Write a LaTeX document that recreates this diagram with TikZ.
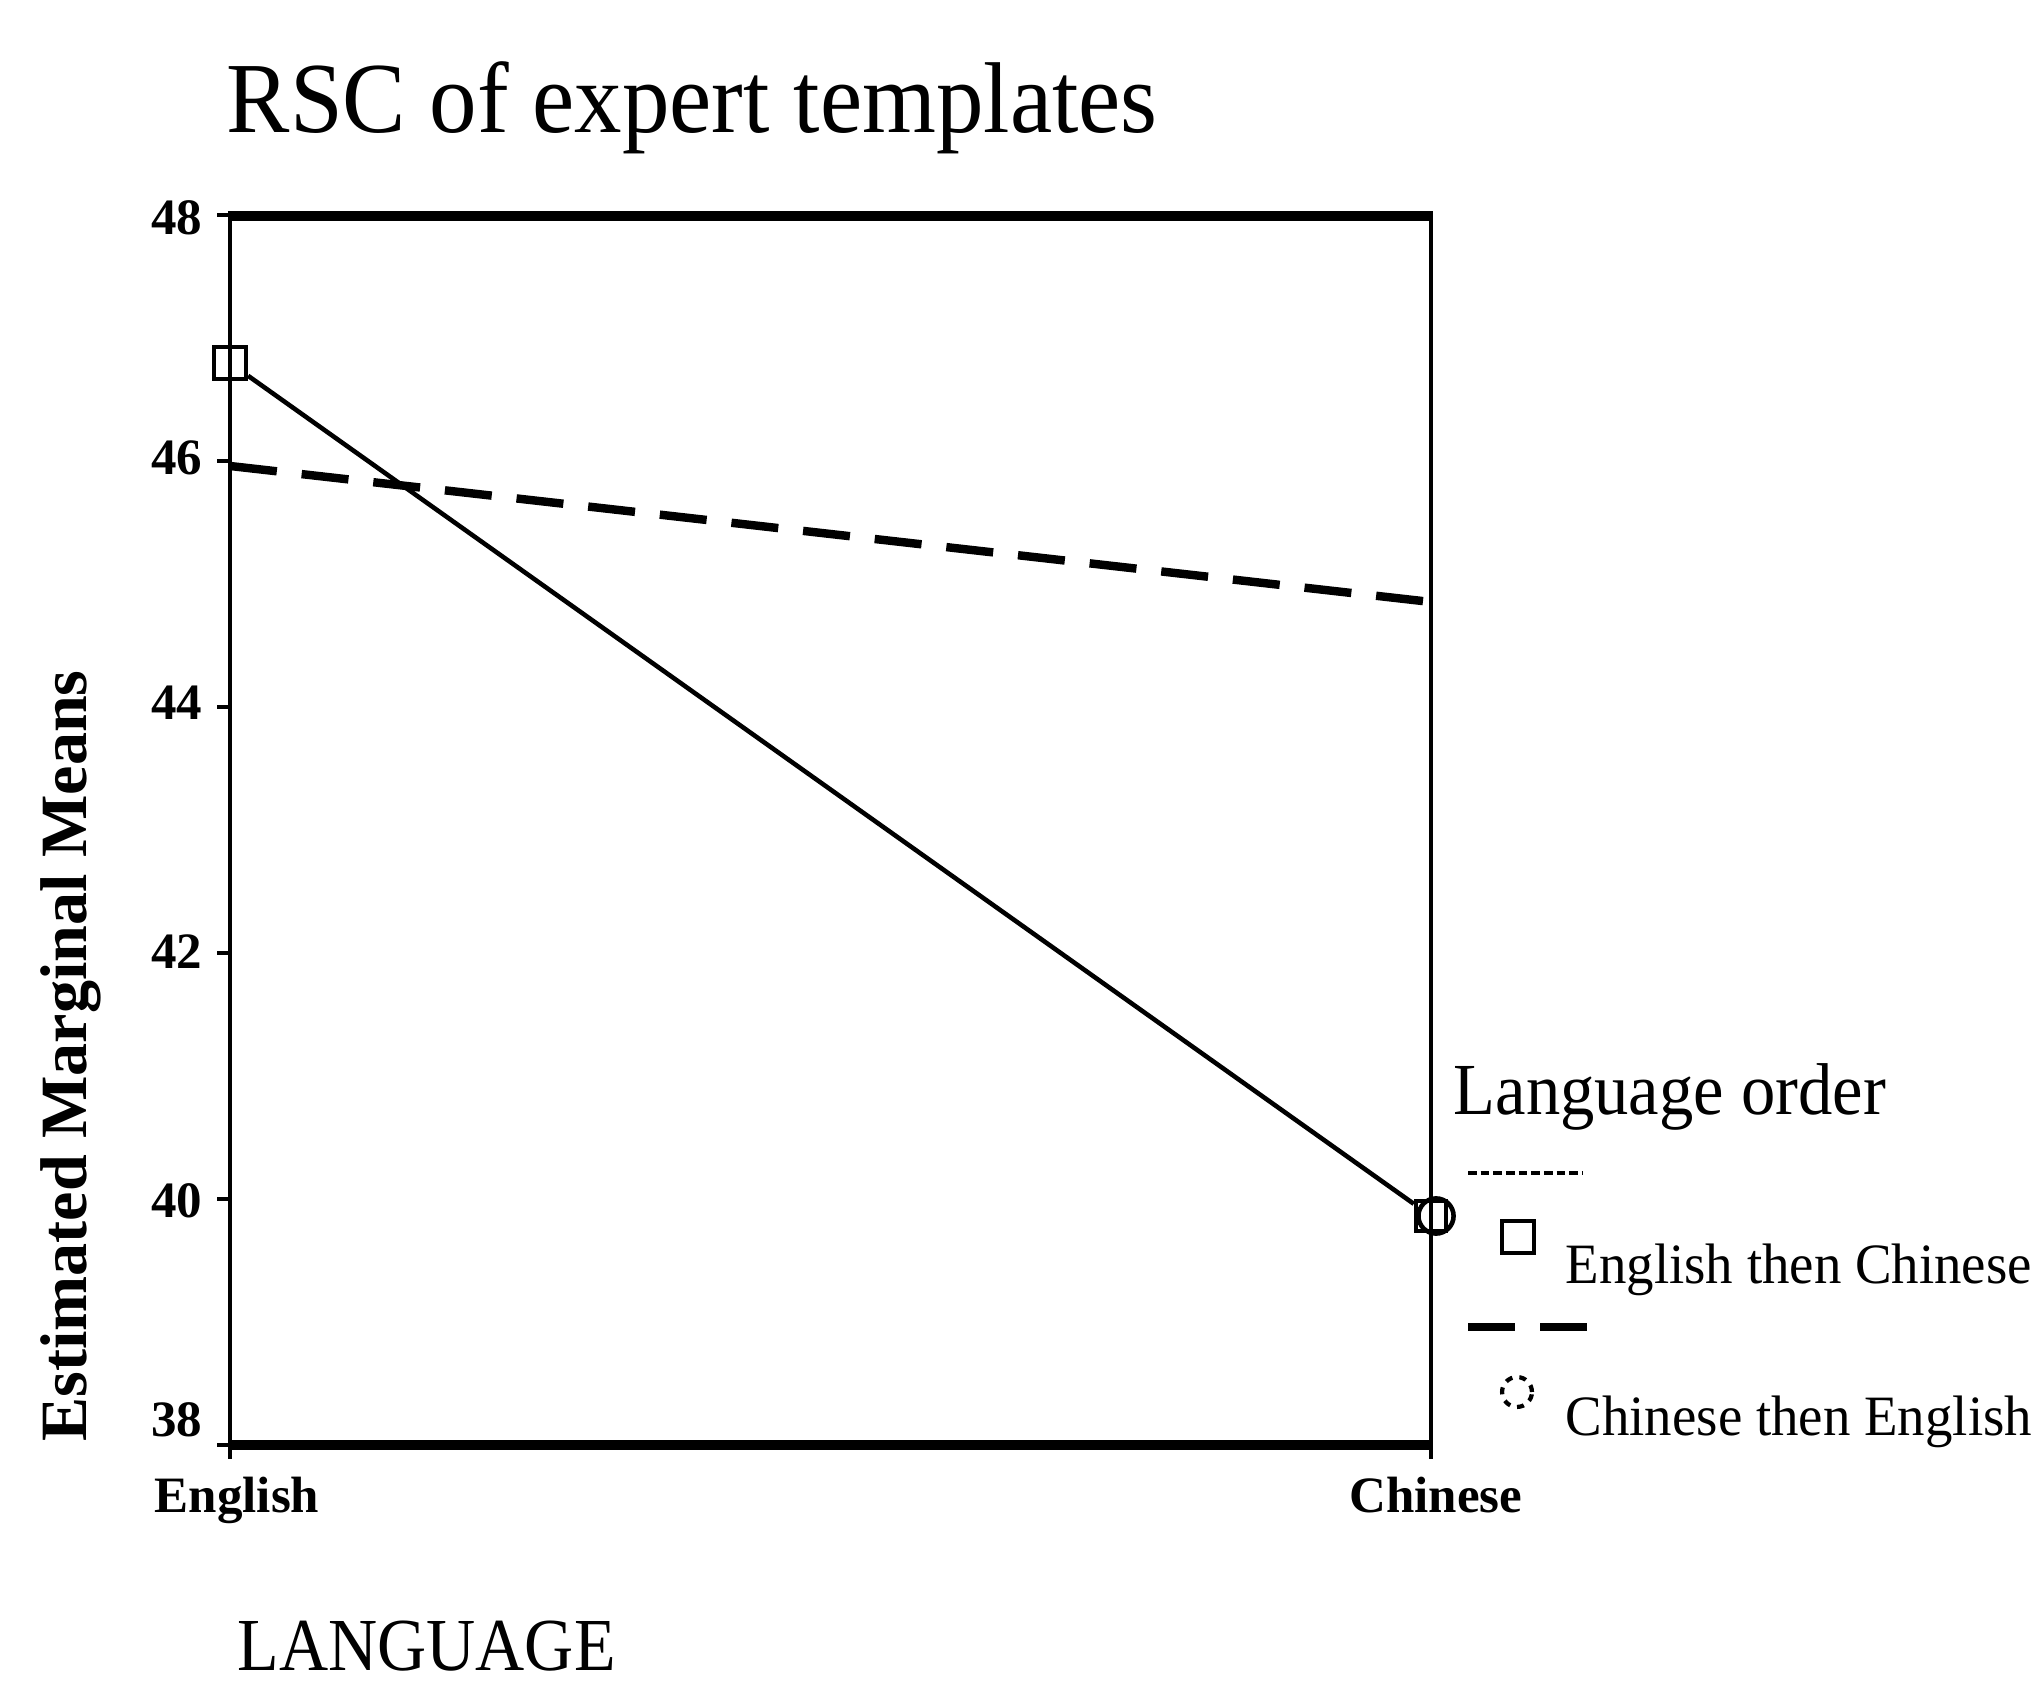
\documentclass[tikz,border=0pt]{standalone}
\usepackage{fontspec}
\setmainfont{Liberation Serif}
\usepackage{graphicx}
\begin{document}
\begin{tikzpicture}[x=0.01cm,y=-0.01cm,
  frameh/.style={line width=2.7pt},
  framev/.style={line width=1.4pt},
  tickline/.style={line width=1.4pt},
  ticklabel/.style={font=\bfseries\fontsize{14.5}{17}\selectfont, inner sep=0pt, anchor=east},
  catlabel/.style={font=\bfseries\fontsize{14.5}{17}\selectfont, inner sep=0pt, anchor=base},
  solidseries/.style={line width=1.3pt},
  dashseries/.style={line width=2.4pt, dash pattern=on 13.4pt off 7.1pt},
  dotsample/.style={line width=1.1pt, dash pattern=on 2.5pt off 1.1pt},
  sqmark/.style={draw, rectangle, minimum size=9pt, inner sep=0pt, line width=1.3pt},
  circmark/.style={draw, circle, minimum size=8.5pt, inner sep=0pt, line width=1.2pt, dash pattern=on 2pt off 2pt},
  legtext/.style={font=\fontsize{15.6}{18}\selectfont, inner sep=0pt, anchor=base west},
]
\useasboundingbox (0,0) rectangle (2042,1689);

% title
\node[anchor=base west, inner sep=0pt, font=\fontsize{27}{32}\selectfont] (title) at (226,133)
  {\scalebox{1}[1.06]{RSC of expert templates}};

% plot frame
\coordinate (tl) at (230,216);
\coordinate (tr) at (1431,216);
\coordinate (bl) at (230,1445);
\coordinate (br) at (1431,1445);
\draw[framev] (tl) -- (bl);
\draw[framev] (tr) -- (br);
\draw[frameh] ([xshift=-0.6pt]tl) -- ([xshift=0.6pt]tr);
\draw[frameh] ([xshift=-0.6pt]bl) -- ([xshift=0.6pt]br);

% y ticks and labels
\foreach \v/\yt/\yl in {48/215/218, 46/461/458, 44/707/703, 42/953/952, 40/1199/1201, 38/1445/1420}{
  \coordinate (t\v) at (230,\yt);
  \coordinate (u\v) at (217,\yt);
  \draw[tickline] (u\v) -- (t\v);
  \node[ticklabel] (l\v) at (203,\yl) {\v};
}

% x ticks and category labels
\coordinate (xe) at (230,1459);
\coordinate (xc) at (1431,1459);
\draw[tickline] (bl) -- (xe);
\draw[tickline] (br) -- (xc);
\node[catlabel] (cateng) at (237,1512) {English};
\node[catlabel] (catchi) at (1436,1512) {Chinese};

% axis titles
\node[rotate=90, anchor=base, inner sep=0pt, font=\bfseries\fontsize{18.8}{22}\selectfont] (ytitle) at (86,1056)
  {Estimated Marginal Means};
\node[anchor=base west, inner sep=0pt, font=\fontsize{19.35}{23}\selectfont] (xtitle) at (237,1670)
  {\scalebox{1}[1.1]{LANGUAGE}};

% series: English then Chinese
\node[sqmark] (e1) at (230,363) {};
\node[sqmark, minimum size=8.5pt] (e2) at (1431,1216) {};
\node[draw, circle, minimum size=10pt, inner sep=0pt, line width=1.3pt] (e2c) at (1436,1216) {};
\draw[solidseries] (e1) -- (e2);

% series: Chinese then English
\coordinate (c1) at (230,466);
\coordinate (c2) at (1431,602);
\draw[dashseries] (c1) -- (c2);

% legend
\node[anchor=base west, inner sep=0pt, font=\fontsize{19.5}{23}\selectfont] (legtitle) at (1453,1114)
  {\scalebox{1}[1.07]{Language order}};
\coordinate (s1a) at (1468,1173);
\coordinate (s1b) at (1583,1173);
\draw[dotsample] (s1a) -- (s1b);
\node[sqmark] (legsq) at (1518,1237) {};
\node[legtext] (leg1) at (1565,1283) {\scalebox{1}[1.04]{English then Chinese}};
\coordinate (s2a) at (1468,1327);
\coordinate (s2b) at (1590,1327);
\draw[dashseries] (s2a) -- (s2b);
\node[circmark] (legci) at (1517,1392) {};
\node[legtext] (leg2) at (1565,1435) {\scalebox{1}[1.04]{Chinese then English}};
\end{tikzpicture}
\end{document}
